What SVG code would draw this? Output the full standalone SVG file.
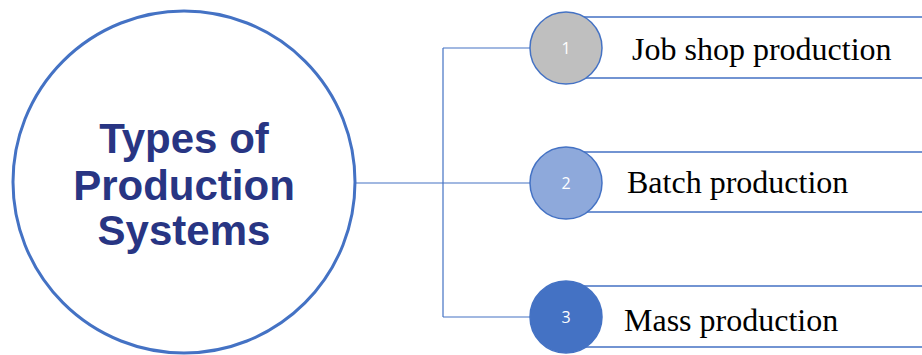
<svg xmlns="http://www.w3.org/2000/svg" width="922" height="355" viewBox="0 0 922 355">
<style>
.conn{stroke:#4472C4;stroke-width:1.2;fill:none}
.bar{stroke:#4472C4;stroke-width:1.5;fill:none}
.dot{stroke:#4472C4;stroke-width:1.5}
.num{font-family:"Open Sans","Liberation Sans",sans-serif;font-size:16px;fill:#FFFFFF;text-anchor:middle}
.lbl{font-family:"Liberation Serif",serif;font-size:32px;fill:#000000}
.title{font-family:"Liberation Sans",Arial,sans-serif;font-weight:bold;font-size:42px;fill:#283583;text-anchor:middle}
</style>
<rect width="922" height="355" fill="#FFFFFF"/>
<g id="connectors">
<path class="conn" d="M356 183 H443 M443 48 V317 M443 48 H530 M443 183 H530 M443 317 H530"/>
</g>
<g id="center">
<circle cx="184" cy="182" r="171" fill="#FFFFFF" stroke="#4472C4" stroke-width="3"/>
<text class="title" x="184" y="153">Types of</text>
<text class="title" x="184" y="200">Production</text>
<text class="title" x="184" y="245">Systems</text>
</g>
<g id="item1">
<path class="bar" d="M566 17 H922 M566 78 H922"/>
<circle class="dot" cx="566" cy="48" r="36" fill="#BFBFBF"/>
<text class="num" x="566" y="54">1</text>
<text class="lbl" x="632" y="60">Job shop production</text>
</g>
<g id="item2">
<path class="bar" d="M566 152 H922 M566 212 H922"/>
<circle class="dot" cx="566" cy="183" r="36" fill="#8EA9DB"/>
<text class="num" x="566" y="189">2</text>
<text class="lbl" x="627" y="193">Batch production</text>
</g>
<g id="item3">
<path class="bar" d="M566 286 H922 M566 347 H922"/>
<circle class="dot" cx="566" cy="317" r="36" fill="#4472C4"/>
<text class="num" x="566" y="323">3</text>
<text class="lbl" x="624" y="331">Mass production</text>
</g>
</svg>
